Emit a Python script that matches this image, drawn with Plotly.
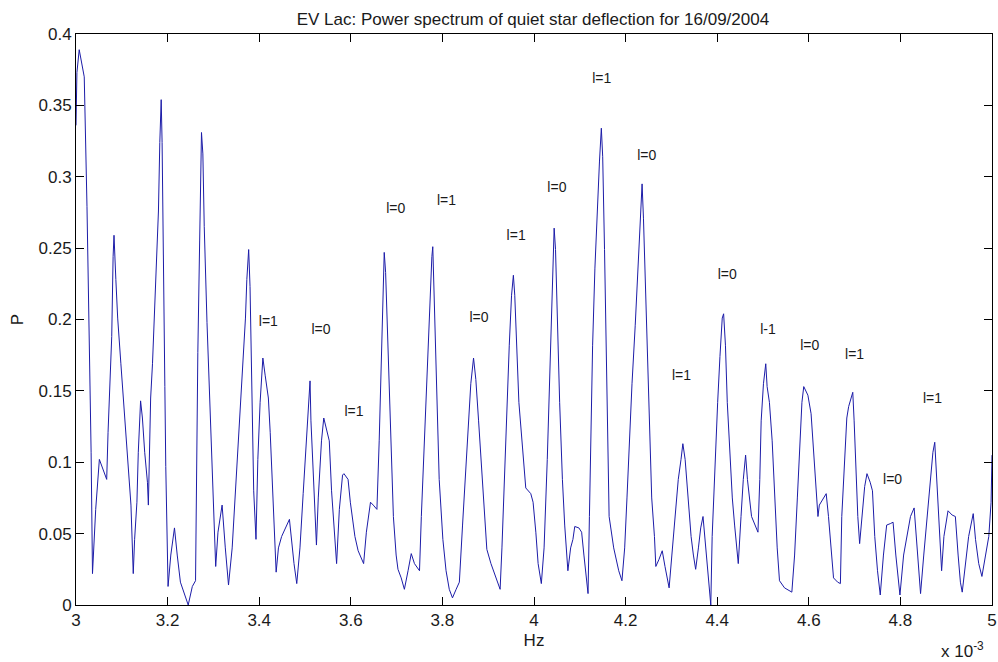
import plotly.graph_objects as go

# Frequency in units of 1e-3 Hz (mHz) and power P
freq_mHz = [
    3.000, 3.002, 3.007, 3.018, 3.024, 3.027, 3.029, 3.033, 3.036, 3.043, 3.051, 3.067, 3.070, 3.075,
    3.078, 3.081, 3.083, 3.087, 3.091, 3.098, 3.105, 3.112, 3.120, 3.125, 3.128, 3.133, 3.136, 3.141,
    3.145, 3.150, 3.156, 3.158, 3.160, 3.163, 3.167, 3.172, 3.175, 3.180, 3.183, 3.186, 3.188, 3.191,
    3.194, 3.196, 3.199, 3.201, 3.207, 3.215, 3.221, 3.228, 3.245, 3.254, 3.261, 3.263, 3.266, 3.270,
    3.272, 3.274, 3.277, 3.280, 3.286, 3.292, 3.298, 3.302, 3.305, 3.310, 3.319, 3.326, 3.333,
    3.341, 3.348, 3.355, 3.362, 3.370, 3.373, 3.377, 3.380, 3.384, 3.388, 3.393, 3.397, 3.402, 3.408,
    3.413, 3.420, 3.424, 3.431, 3.437, 3.442, 3.449, 3.466, 3.471, 3.476, 3.482, 3.489, 3.496, 3.502,
    3.507, 3.511, 3.513, 3.518, 3.525, 3.529, 3.536, 3.541, 3.547, 3.553, 3.558, 3.565, 3.569, 3.575,
    3.582, 3.585, 3.594, 3.599, 3.609, 3.616, 3.628, 3.634, 3.643, 3.649, 3.657, 3.662, 3.667, 3.670,
    3.673, 3.676, 3.681, 3.685, 3.688, 3.693, 3.699, 3.703, 3.710, 3.717, 3.725, 3.732, 3.739, 3.750,
    3.754, 3.759, 3.764, 3.770, 3.774, 3.777, 3.779, 3.781, 3.785, 3.790, 3.793, 3.801, 3.808, 3.815,
    3.822, 3.830, 3.837, 3.844, 3.850, 3.855, 3.862, 3.868, 3.873, 3.879, 3.884, 3.891, 3.897, 3.906,
    3.917, 3.926, 3.930, 3.935, 3.941, 3.946, 3.951, 3.955, 3.958, 3.962, 3.967, 3.975, 3.982, 3.993,
    3.998, 4.004, 4.009, 4.016, 4.022, 4.029, 4.035, 4.040, 4.044, 4.047, 4.051, 4.056, 4.062, 4.067,
    4.074, 4.080, 4.085, 4.089, 4.098, 4.104, 4.109, 4.114, 4.118, 4.121, 4.125, 4.128, 4.133, 4.138,
    4.143, 4.147, 4.150, 4.154, 4.157, 4.161, 4.164, 4.174, 4.185, 4.192, 4.198, 4.203, 4.208, 4.214,
    4.221, 4.227, 4.232, 4.236, 4.239, 4.243, 4.246, 4.251, 4.257, 4.263, 4.266, 4.273, 4.280, 4.286,
    4.295, 4.301, 4.308, 4.315, 4.321, 4.325, 4.330, 4.336, 4.343, 4.348, 4.353, 4.359, 4.364, 4.369,
    4.375, 4.379, 4.383, 4.386, 4.389, 4.395, 4.401, 4.406, 4.411, 4.414, 4.418, 4.422, 4.428, 4.433,
    4.438, 4.442, 4.446, 4.452, 4.457, 4.462, 4.466, 4.475, 4.482, 4.489, 4.493, 4.496, 4.501, 4.506,
    4.509, 4.514, 4.520, 4.525, 4.531, 4.536, 4.547, 4.563, 4.569, 4.575, 4.580, 4.585, 4.589, 4.598,
    4.605, 4.609, 4.614, 4.620, 4.623, 4.638, 4.643, 4.649, 4.654, 4.663, 4.669, 4.672, 4.678, 4.683,
    4.687, 4.696, 4.699, 4.703, 4.707, 4.711, 4.717, 4.722, 4.727, 4.734, 4.739, 4.744, 4.750, 4.756,
    4.763, 4.770, 4.778, 4.784, 4.790, 4.795, 4.799, 4.807, 4.815, 4.822, 4.830, 4.837, 4.844, 4.851,
    4.859, 4.866, 4.871, 4.875, 4.879, 4.884, 4.890, 4.895, 4.904, 4.913, 4.920, 4.926, 4.931, 4.935,
    4.942, 4.949, 4.959, 4.964, 4.971, 4.978, 4.986, 4.993, 4.998, 5.000,
]
power = [
    0.336, 0.373, 0.389, 0.370, 0.279, 0.223, 0.166, 0.107, 0.022, 0.067, 0.102, 0.088, 0.121, 0.158,
    0.188, 0.244, 0.259, 0.228, 0.201, 0.169, 0.137, 0.102, 0.070, 0.022, 0.046, 0.072, 0.107, 0.143,
    0.131, 0.107, 0.086, 0.070, 0.107, 0.145, 0.169, 0.206, 0.239, 0.276, 0.324, 0.354, 0.324, 0.209,
    0.153, 0.097, 0.035, 0.013, 0.035, 0.054, 0.035, 0.016, 0.000, 0.013, 0.017, 0.102, 0.177, 0.255,
    0.308, 0.331, 0.316, 0.265, 0.198, 0.139, 0.088, 0.043, 0.027, 0.051, 0.070, 0.040, 0.014,
    0.040, 0.080, 0.121, 0.161, 0.201, 0.228, 0.249, 0.223, 0.158, 0.080, 0.046, 0.102, 0.142, 0.173,
    0.161, 0.145, 0.121, 0.067, 0.023, 0.040, 0.048, 0.060, 0.043, 0.029, 0.015, 0.040, 0.078, 0.107,
    0.131, 0.157, 0.129, 0.088, 0.042, 0.075, 0.115, 0.131, 0.123, 0.115, 0.080, 0.046, 0.029, 0.067,
    0.091, 0.092, 0.088, 0.072, 0.048, 0.038, 0.029, 0.051, 0.072, 0.070, 0.067, 0.115, 0.169, 0.201,
    0.247, 0.233, 0.182, 0.142, 0.102, 0.062, 0.035, 0.025, 0.019, 0.011, 0.024, 0.036, 0.029, 0.024,
    0.062, 0.102, 0.147, 0.188, 0.223, 0.244, 0.251, 0.228, 0.182, 0.129, 0.088, 0.046, 0.024, 0.011,
    0.005, 0.011, 0.016, 0.056, 0.088, 0.115, 0.155, 0.173, 0.158, 0.129, 0.102, 0.067, 0.039, 0.029,
    0.019, 0.011, 0.040, 0.088, 0.142, 0.182, 0.217, 0.231, 0.217, 0.182, 0.142, 0.110, 0.082, 0.078,
    0.072, 0.051, 0.029, 0.015, 0.040, 0.102, 0.169, 0.223, 0.264, 0.249, 0.196, 0.142, 0.088, 0.056,
    0.024, 0.040, 0.046, 0.055, 0.054, 0.051, 0.035, 0.019, 0.008, 0.062, 0.129, 0.182, 0.236, 0.276,
    0.311, 0.334, 0.314, 0.249, 0.182, 0.121, 0.062, 0.040, 0.024, 0.017, 0.040, 0.075, 0.115, 0.155,
    0.196, 0.236, 0.271, 0.295, 0.271, 0.228, 0.182, 0.129, 0.075, 0.048, 0.027, 0.032, 0.038, 0.027,
    0.012, 0.035, 0.062, 0.088, 0.102, 0.113, 0.102, 0.075, 0.048, 0.035, 0.025, 0.040, 0.054, 0.062,
    0.040, 0.024, 0.008, 0.000, 0.048, 0.102, 0.142, 0.174, 0.201, 0.204, 0.182, 0.142, 0.102, 0.075,
    0.056, 0.040, 0.029, 0.062, 0.088, 0.105, 0.088, 0.062, 0.056, 0.051, 0.088, 0.129, 0.155, 0.169,
    0.153, 0.142, 0.115, 0.075, 0.040, 0.017, 0.012, 0.009, 0.035, 0.075, 0.115, 0.142, 0.153, 0.147,
    0.134, 0.115, 0.088, 0.062, 0.070, 0.078, 0.062, 0.040, 0.019, 0.016, 0.015, 0.062, 0.102, 0.131,
    0.139, 0.149, 0.129, 0.088, 0.062, 0.043, 0.067, 0.083, 0.092, 0.086, 0.080, 0.048, 0.024, 0.007,
    0.035, 0.056, 0.057, 0.058, 0.035, 0.016, 0.007, 0.035, 0.048, 0.062, 0.068, 0.035, 0.008, 0.035,
    0.062, 0.088, 0.107, 0.114, 0.088, 0.056, 0.024, 0.048, 0.066, 0.063, 0.062, 0.035, 0.016, 0.009,
    0.027, 0.048, 0.064, 0.046, 0.029, 0.020, 0.035, 0.048, 0.072, 0.105,
]

# Mode labels
label_text = ["l=1", "l=0", "l=1", "l=0", "l=1", "l=0", "l=1", "l=0", "l=1",
              "l=0", "l=1", "l=0", "l-1", "l=0", "l=1", "l=0", "l=1"]
label_freq = [3.420, 3.535, 3.607, 3.698, 3.809, 3.880, 3.961, 4.050, 4.148,
              4.246, 4.322, 4.422, 4.511, 4.602, 4.700, 4.783, 4.870]
label_power = [0.198, 0.192, 0.135, 0.277, 0.283, 0.201, 0.258, 0.292, 0.368,
               0.314, 0.160, 0.231, 0.192, 0.181, 0.175, 0.087, 0.144]

x_ticks = [3.0, 3.2, 3.4, 3.6, 3.8, 4.0, 4.2, 4.4, 4.6, 4.8, 5.0]
x_tick_text = ["3", "3.2", "3.4", "3.6", "3.8", "4", "4.2", "4.4", "4.6", "4.8", "5"]
y_ticks = [0, 0.05, 0.1, 0.15, 0.2, 0.25, 0.3, 0.35, 0.4]
y_tick_text = ["0", "0.05", "0.1", "0.15", "0.2", "0.25", "0.3", "0.35", "0.4"]

FONT = "Liberation Sans, Arial, sans-serif"
TXT = "#1a1a1a"

fig = go.Figure()
fig.add_trace(go.Scatter(
    x=freq_mHz, y=power, mode="lines",
    line=dict(color="#1c1ca8", width=1),
    showlegend=False, hoverinfo="x+y",
))

fig.add_trace(go.Scatter(
    x=label_freq, y=label_power, mode="text", text=label_text,
    textfont=dict(family=FONT, size=14, color=TXT),
    textposition="middle center", showlegend=False, hoverinfo="skip",
))

axis_common = dict(
    showgrid=False, zeroline=False, showline=True, linecolor="#000000", linewidth=1,
    mirror="ticks", ticks="inside", ticklen=8, tickcolor="#000000", tickwidth=1,
    tickfont=dict(family=FONT, size=17, color=TXT),
    ticklabeloverflow="allow",
)

fig.update_layout(
    width=998, height=662,
    paper_bgcolor="#ffffff", plot_bgcolor="#ffffff",
    margin=dict(l=76, r=1, t=34, b=57),
    title=dict(text="EV Lac: Power spectrum of quiet star deflection for 16/09/2004",
               x=0.534, xanchor="center", y=0.971, yanchor="middle",
               font=dict(family=FONT, size=17, color=TXT)),
    xaxis=dict(range=[3, 5], tickvals=x_ticks, ticktext=x_tick_text,
               title=dict(text="Hz", font=dict(family=FONT, size=17, color=TXT), standoff=4),
               **axis_common),
    yaxis=dict(range=[0, 0.4], tickvals=y_ticks, ticktext=y_tick_text,
               title=dict(text="P", font=dict(family=FONT, size=17, color=TXT), standoff=10),
               **axis_common),
    annotations=[dict(
        text="x 10<sup>-3</sup>", xref="paper", yref="paper", x=0.968, y=-0.079,
        xanchor="center", yanchor="middle", showarrow=False,
        font=dict(family=FONT, size=17, color=TXT),
    )],
)

fig.write_html("out.html",
               config={"displayModeBar": False},
               post_script="document.body.style.margin='0px';document.body.style.padding='0px';document.body.style.overflow='hidden';")
